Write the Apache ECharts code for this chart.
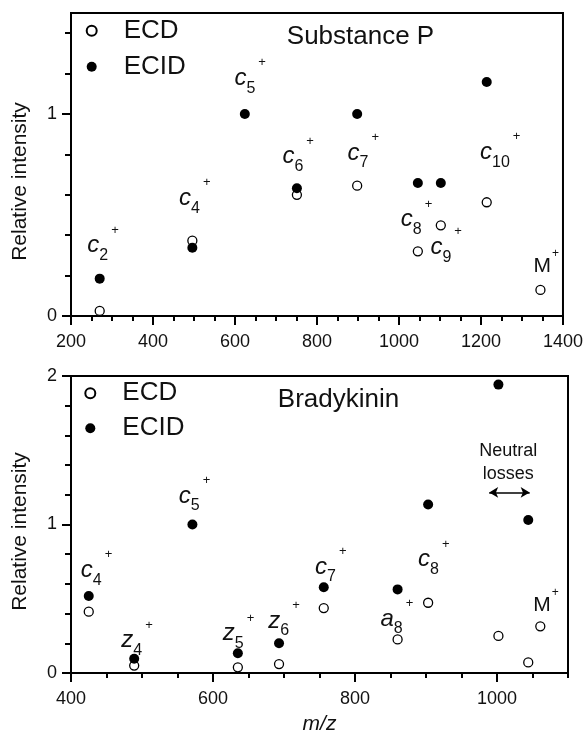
<!DOCTYPE html>
<html>
<head>
<meta charset="utf-8">
<script src="https://cdn.jsdelivr.net/npm/echarts@6/dist/echarts.min.js"></script>
<style>
  html, body { margin: 0; background: #fff; }
  #chart { width: 586px; height: 736px; }
</style>
</head>
<body>
<div id="chart"></div>
<script>
// ---- Substance P (top panel) ----
var spEcdMz = [270, 496, 751, 898, 1046, 1102, 1214, 1345];
var spEcdInt = [0.025, 0.373, 0.6, 0.645, 0.32, 0.449, 0.563, 0.129];
var spEcidMz = [270, 496, 624, 751, 898, 1046, 1102, 1214];
var spEcidInt = [0.185, 0.338, 1.0, 0.632, 1.0, 0.658, 0.658, 1.158];
// fragment labels: letter, subscript, where the label sits (m/z, intensity)
var spIonName = ['c', 'c', 'c', 'c', 'c', 'c', 'c', 'c', 'M'];
var spIonSub = ['2', '4', '5', '6', '7', '8', '9', '10', ''];
var spIonMz = [278, 502, 637, 754, 913, 1043, 1115, 1247, 1359];
var spIonInt = [0.408, 0.643, 1.237, 0.849, 0.866, 0.536, 0.399, 0.870, 0.284];
var spXTicks = [200, 400, 600, 800, 1000, 1200, 1400];
var spXMinor = [250, 300, 350, 450, 500, 550, 650, 700, 750, 850, 900, 950, 1050, 1100, 1150, 1250, 1300, 1350];
var spYTicks = [0, 1];
var spYMinor = [0.2, 0.4, 0.6, 0.8, 1.2, 1.4];

// ---- Bradykinin (bottom panel) ----
var bkEcdMz = [425, 489, 635, 693, 756, 860, 903, 1002, 1044, 1061];
var bkEcdInt = [0.413, 0.05, 0.038, 0.06, 0.437, 0.226, 0.473, 0.25, 0.071, 0.314];
var bkEcidMz = [425, 489, 571, 635, 693, 756, 860, 903, 1002, 1044];
var bkEcidInt = [0.519, 0.096, 1.0, 0.133, 0.2, 0.578, 0.563, 1.135, 1.942, 1.03];
var bkIonName = ['c', 'z', 'c', 'z', 'z', 'c', 'a', 'c', 'M'];
var bkIonSub = ['4', '4', '5', '5', '6', '7', '8', '8', ''];
var bkIonMz = [436, 493, 574, 636, 700, 766, 859, 911, 1069];
var bkIonInt = [0.773, 0.300, 1.273, 0.345, 0.432, 0.795, 0.445, 0.845, 0.510];
var lossArrowMz = [989, 1046];
var lossArrowInt = 1.216;
var lossTextMz = 1016;
var lossTextInt = 1.42;
var bkXTicks = [400, 600, 800, 1000];
var bkXMinor = [450, 500, 550, 650, 700, 750, 850, 900, 950, 1050, 1100];
var bkYTicks = [0, 1, 2];
var bkYMinor = [0.2, 0.4, 0.6, 0.8, 1.2, 1.4, 1.6, 1.8];

var FONT = 'Liberation Sans, Arial, sans-serif';
var INK = '#111';

function pairs(xs, ys) {
  return xs.map(function (x, i) { return [x, ys[i]]; });
}

function ionData(names, subs, xs, ys) {
  return xs.map(function (x, i) {
    var txt = names[i] === 'M'
      ? '{m|M}{q|+}'
      : '{i|' + names[i] + '}{s|' + subs[i] + '}{p|+}';
    return { value: [x, ys[i]], label: { formatter: txt } };
  });
}

function tok(o) {
  return Object.assign({ color: INK, fontFamily: FONT, verticalAlign: 'top', textBorderWidth: 0 }, o);
}
var ionRich = {
  i: tok({ fontSize: 24, fontStyle: 'italic', lineHeight: 24, padding: [12, 0, 0, 0] }),
  s: tok({ fontSize: 16, lineHeight: 16, padding: [26, 0, 3, 0] }),
  p: tok({ fontSize: 13, lineHeight: 13, padding: [2, 0, 0, 3] }),
  m: tok({ fontSize: 21, lineHeight: 21, padding: [8, 0, 0, 0] }),
  q: tok({ fontSize: 12, lineHeight: 12, padding: [0, 0, 0, 1] })
};

function plain(v) { return String(v); }

function majorX(grid, min, max, ticks, extra) {
  var ax = {
    type: 'value', gridIndex: grid, min: min, max: max, position: 'bottom',
    axisLine: { show: true, lineStyle: { color: '#000', width: 2 } },
    axisTick: { show: true, customValues: ticks, length: 9, lineStyle: { color: '#000', width: 2 } },
    axisLabel: { customValues: ticks, formatter: plain, fontSize: 18, margin: 17, color: INK, fontFamily: FONT },
    splitLine: { show: false }
  };
  return Object.assign(ax, extra || {});
}
function minorX(grid, min, max, ticks) {
  return {
    type: 'value', gridIndex: grid, min: min, max: max, position: 'bottom',
    axisLine: { show: false },
    axisTick: { show: true, customValues: ticks, length: 5, lineStyle: { color: '#000', width: 2 } },
    axisLabel: { show: false }, splitLine: { show: false }
  };
}
function majorY(grid, min, max, ticks, namePad) {
  return {
    type: 'value', gridIndex: grid, min: min, max: max, position: 'left',
    name: 'Relative intensity', nameLocation: 'middle', nameGap: 40,
    nameTextStyle: { fontSize: 21, color: INK, fontFamily: FONT, padding: namePad },
    axisLine: { show: true, lineStyle: { color: '#000', width: 2 } },
    axisTick: { show: true, customValues: ticks, length: 9, lineStyle: { color: '#000', width: 2 } },
    axisLabel: { customValues: ticks, formatter: plain, fontSize: 18, margin: 14, color: INK, fontFamily: FONT },
    splitLine: { show: false }
  };
}
function minorY(grid, min, max, ticks) {
  return {
    type: 'value', gridIndex: grid, min: min, max: max, position: 'left',
    axisLine: { show: false },
    axisTick: { show: true, customValues: ticks, length: 6, lineStyle: { color: '#000', width: 2 } },
    axisLabel: { show: false }, splitLine: { show: false }
  };
}

var openStyle = { color: '#fff', borderColor: '#000', borderWidth: 1.3, opacity: 1 };
var fillStyle = { color: '#000', opacity: 1 };
var hiddenStyle = { color: 'transparent', opacity: 1 };
var legendText = { fontSize: 26, lineHeight: 26, color: INK, fontFamily: FONT, padding: [0, 0, 0, 22] };
var annLabel = { show: true, position: 'inside', textBorderWidth: 0, opacity: 1, color: INK, fontFamily: FONT };

var chart = echarts.init(document.getElementById('chart'));
chart.setOption({
  animation: false,
  backgroundColor: '#fff',
  grid: [
    { left: 71, top: 13, width: 498, height: 303, show: true, borderColor: '#000', borderWidth: 2 },
    { left: 71, top: 376, width: 497, height: 302, show: true, borderColor: '#000', borderWidth: 2 }
  ],
  legend: [
    { orient: 'vertical', left: 85.7, top: 17.7, padding: 0, itemGap: 10, itemWidth: 10, itemHeight: 10,
      icon: 'circle', textStyle: legendText, data: ['ECD', 'ECID'] },
    { orient: 'vertical', left: 84.3, top: 380.3, padding: 0, itemGap: 9, itemWidth: 10, itemHeight: 10,
      icon: 'circle', textStyle: legendText, data: ['ECD', 'ECID'] }
  ],
  graphic: [
    { type: 'text', x: 360.5, y: 36.7, style: { text: 'Substance P', fontSize: 26, fontFamily: FONT, fill: INK, textAlign: 'center', textVerticalAlign: 'middle' } },
    { type: 'text', x: 338.5, y: 400, style: { text: 'Bradykinin', fontSize: 26, fontFamily: FONT, fill: INK, textAlign: 'center', textVerticalAlign: 'middle' } }
  ],
  xAxis: [
    majorX(0, 200, 1400, spXTicks),
    minorX(0, 200, 1400, spXMinor),
    majorX(1, 400, 1100, bkXTicks, {
      name: 'm/z', nameLocation: 'middle', nameGap: 41,
      nameTextStyle: { fontSize: 21, fontStyle: 'italic', color: INK, fontFamily: FONT }
    }),
    minorX(1, 400, 1100, bkXMinor)
  ],
  yAxis: [
    majorY(0, 0, 1.5, spYTicks, [0, 34, 0, 0]),
    minorY(0, 0, 1.5, spYMinor),
    majorY(1, 0, 2, bkYTicks, [0, 14, 0, 0]),
    minorY(1, 0, 2, bkYMinor)
  ],
  series: [
    { name: 'ECD', type: 'scatter', xAxisIndex: 0, yAxisIndex: 0, symbolSize: 9, itemStyle: openStyle,
      data: pairs(spEcdMz, spEcdInt), silent: true },
    { name: 'ECID', type: 'scatter', xAxisIndex: 0, yAxisIndex: 0, symbolSize: 10, itemStyle: fillStyle,
      data: pairs(spEcidMz, spEcidInt), silent: true },
    { name: 'spIons', type: 'scatter', xAxisIndex: 0, yAxisIndex: 0, symbolSize: 1,
      itemStyle: hiddenStyle, silent: true,
      label: Object.assign({ rich: ionRich }, annLabel),
      data: ionData(spIonName, spIonSub, spIonMz, spIonInt) },

    { name: 'ECD', type: 'scatter', xAxisIndex: 2, yAxisIndex: 2, symbolSize: 9, itemStyle: openStyle,
      data: pairs(bkEcdMz, bkEcdInt), silent: true },
    { name: 'ECID', type: 'scatter', xAxisIndex: 2, yAxisIndex: 2, symbolSize: 10, itemStyle: fillStyle,
      data: pairs(bkEcidMz, bkEcidInt), silent: true },
    { name: 'bkIons', type: 'scatter', xAxisIndex: 2, yAxisIndex: 2, symbolSize: 1,
      itemStyle: hiddenStyle, silent: true,
      label: Object.assign({ rich: ionRich }, annLabel),
      data: ionData(bkIonName, bkIonSub, bkIonMz, bkIonInt) },
    { name: 'losses', type: 'scatter', xAxisIndex: 2, yAxisIndex: 2, symbolSize: 1,
      itemStyle: hiddenStyle, silent: true,
      label: Object.assign({ formatter: 'Neutral\nlosses', fontSize: 18, lineHeight: 23 }, annLabel),
      data: [[lossTextMz, lossTextInt]],
      markLine: {
        silent: true, symbol: ['arrow', 'arrow'], symbolSize: [8, 9],
        lineStyle: { color: '#000', width: 1.5, type: 'solid', opacity: 1 },
        label: { show: false },
        data: [[{ coord: [lossArrowMz[0], lossArrowInt] }, { coord: [lossArrowMz[1], lossArrowInt] }]]
      } }
  ]
});
</script>
</body>
</html>
